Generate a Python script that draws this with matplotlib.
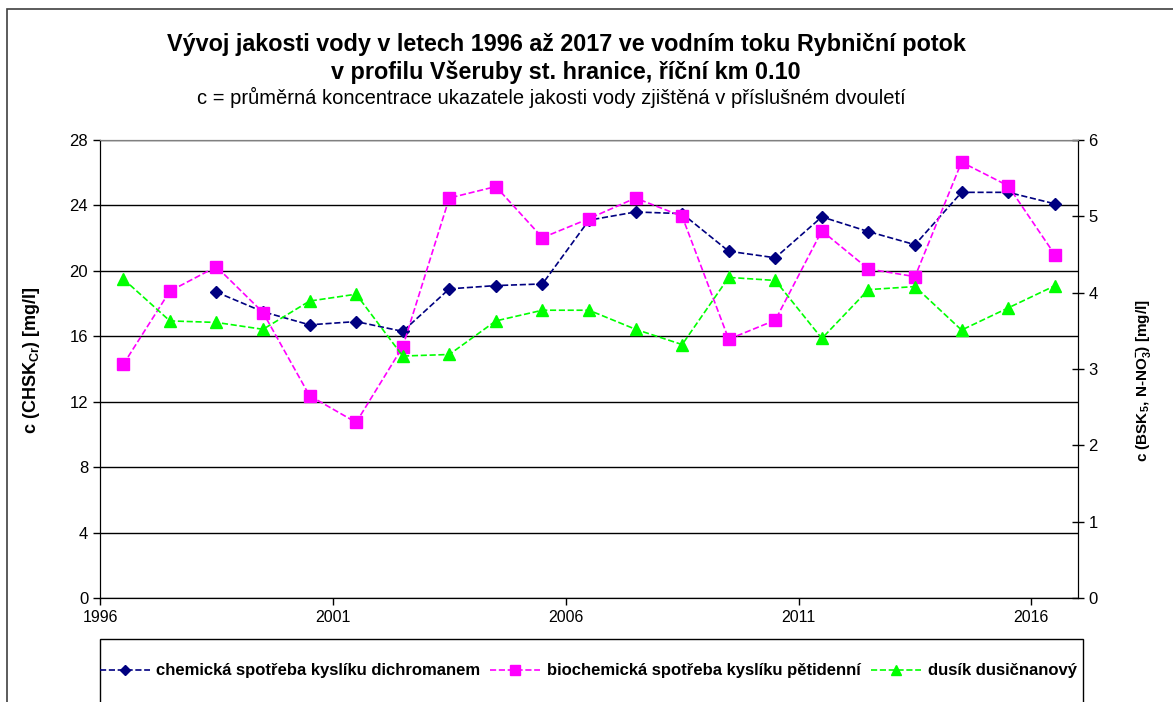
import matplotlib.pyplot as plt
from matplotlib.patches import Rectangle
from matplotlib.lines import Line2D

plt.rcParams['font.family'] = ['Liberation Sans', 'DejaVu Sans']

# mid-year positions of the two-year averages
years = [1996.5 + i for i in range(21)]

# CHSK-Cr (left axis), first two years missing
chsk = [None, None, 18.7, 17.5, 16.7, 16.9, 16.3, 18.9, 19.1, 19.2, 23.1,
        23.6, 23.5, 21.2, 20.8, 23.3, 22.4, 21.6, 24.8, 24.8, 24.1]
# BSK5 (right axis)
bsk5 = [3.06, 4.02, 4.34, 3.74, 2.65, 2.30, 3.29, 5.24, 5.39, 4.72, 4.97,
        5.24, 5.00, 3.39, 3.64, 4.81, 4.31, 4.21, 5.71, 5.40, 4.50]
# N-NO3 (right axis)
nno3 = [4.18, 3.63, 3.61, 3.52, 3.89, 3.98, 3.17, 3.19, 3.63, 3.77, 3.77,
        3.52, 3.32, 4.20, 4.16, 3.40, 4.04, 4.08, 3.51, 3.80, 4.09]

x_ticks = [1996, 2001, 2006, 2011, 2016]
left_ticks = [0, 4, 8, 12, 16, 20, 24, 28]
right_ticks = [0, 1, 2, 3, 4, 5, 6]

labels = ["chemická spotřeba kyslíku dichromanem",
          "biochemická spotřeba kyslíku pětidenní",
          "dusík dusičnanový"]

W, H = 1173, 702
fig = plt.figure(figsize=(W / 100, H / 100), dpi=100)
ax = fig.add_axes([100 / W, 1 - 598 / H, 978 / W, 458 / H])
ax2 = ax.twinx()

cx = [x for x, v in zip(years, chsk) if v is not None]
cy = [v for v in chsk if v is not None]
ax.plot(cx, cy, color='#000080', ls='--', lw=1.2, marker='D', ms=6, zorder=3)
ax2.plot(years, bsk5, color='#FF00FF', ls='--', lw=1.2, marker='s', ms=8, zorder=3)
ax2.plot(years, nno3, color='#00FF00', ls='--', lw=1.2, marker='^', ms=8, zorder=3)

ax.set_xlim(1996, 2017)
ax.set_ylim(0, 28)
ax2.set_ylim(0, 6)
ax.set_xticks(x_ticks)
ax.set_yticks(left_ticks)
ax2.set_yticks(right_ticks)
ax.yaxis.grid(True, color='black', lw=1)
ax.set_axisbelow(True)
ax.tick_params(axis='x', labelsize=11.5, direction='out', length=5, width=1)
ax.tick_params(axis='y', labelsize=12, direction='out', length=5, width=1)
ax2.tick_params(axis='y', labelsize=12, direction='inout', length=8, width=1)
for a in (ax, ax2):
    a.spines['top'].set_color('#808080')
    for s in ('left', 'right', 'bottom'):
        a.spines[s].set_color('black')

fig.text(32 / W, 1 - 360 / H, r"c (CHSK$_{\mathregular{Cr}}$) [mg/l]", fontsize=13,
         fontweight='bold', rotation=90, ha='center', va='center')
fig.text(1144 / W, 1 - 381 / H,
         r"c (BSK$_{\mathregular{5}}$, N-NO$_{\mathregular{3}}^{\mathregular{-}}$) [mg/l]",
         fontsize=11, fontweight='bold', rotation=90, ha='center', va='center')

fig.text(566 / W, 1 - 45 / H, "Vývoj jakosti vody v letech 1996 až 2017 ve vodním toku Rybniční potok",
         ha='center', va='center', fontsize=16.8, fontweight='bold')
fig.text(566 / W, 1 - 72 / H, "v profilu Všeruby st. hranice, říční km 0.10",
         ha='center', va='center', fontsize=16.8, fontweight='bold')
fig.text(551 / W, 1 - 97 / H, "c = průměrná koncentrace ukazatele jakosti vody zjištěná v příslušném dvouletí",
         ha='center', va='center', fontsize=14.5)

# outer chart border and legend box
fig.patches.append(Rectangle((7 / W, -0.1), 1.2, 1 - 9 / H + 0.1, transform=fig.transFigure,
                             fill=False, ec='#404040', lw=1.2))
fig.patches.append(Rectangle((100 / W, -0.1), 983 / W, 1 - 639 / H + 0.1, transform=fig.transFigure,
                             fill=False, ec='black', lw=1))

handles = [Line2D([], [], color='#000080', ls='--', lw=1.2, marker='D', ms=5),
           Line2D([], [], color='#FF00FF', ls='--', lw=1.2, marker='s', ms=7),
           Line2D([], [], color='#00FF00', ls='--', lw=1.2, marker='^', ms=7)]
fig.legend(handles, labels, loc='center', bbox_to_anchor=(588 / W, 1 - 671 / H), ncol=3,
           frameon=False, prop={'weight': 'bold', 'size': 12}, handlelength=3.0,
           handletextpad=0.4, columnspacing=0.6)

fig.savefig("out.png", dpi=100)
